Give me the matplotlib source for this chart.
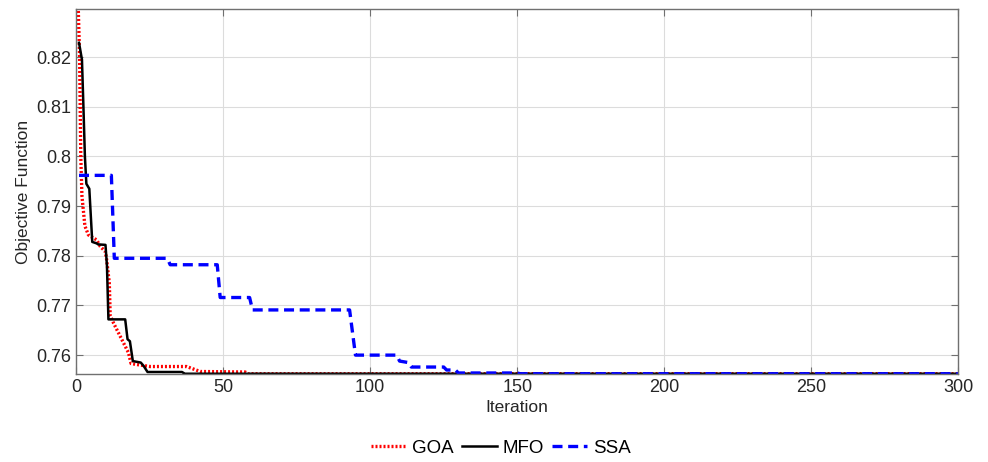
import matplotlib
matplotlib.use("Agg")
import matplotlib.pyplot as plt

plt.rcParams['font.family'] = ['Liberation Sans', 'DejaVu Sans']

# GOA (red dotted)
goa_it = [0.5, 1.2, 1.6, 2, 3, 4.2, 7, 8.2, 9.9, 10.4, 11.3, 11.6, 12.7, 14.4,
          16.1, 17.8, 18.7, 21.8, 25.2, 37.6, 39.9, 42.2, 57.5, 58.5, 300]
goa_val = [0.835, 0.82, 0.80, 0.792, 0.786, 0.7842, 0.7832, 0.7819, 0.7809, 0.7792,
           0.7745, 0.768, 0.7665, 0.7645, 0.7625, 0.7605, 0.7583, 0.758, 0.7577,
           0.7577, 0.7572, 0.7567, 0.7566, 0.75625, 0.75625]

# MFO (black solid)
mfo_it = [1, 2, 2.5, 3, 3.5, 4.5, 5.5, 7, 7.5, 10, 10.5, 11, 16.7, 17.5, 18.3,
          19.3, 22, 23, 24.3, 36, 37, 300]
mfo_val = [0.8229, 0.8195, 0.81, 0.80, 0.7945, 0.7935, 0.7828, 0.7825, 0.7823,
           0.7822, 0.778, 0.7672, 0.7672, 0.7632, 0.7628, 0.7588, 0.7585, 0.7578,
           0.7566, 0.7566, 0.75625, 0.75625]

# SSA (blue dashed)
ssa_it = [1, 12, 13, 31, 32, 48, 49, 59, 60, 93, 95, 109, 110, 113, 114, 125,
          126, 129, 130, 150, 151, 300]
ssa_val = [0.7962, 0.7962, 0.7795, 0.7795, 0.7782, 0.7782, 0.7716, 0.7716, 0.7691,
           0.7691, 0.7600, 0.7600, 0.7588, 0.7585, 0.7576, 0.7576, 0.7570, 0.7570,
           0.7564, 0.7564, 0.75625, 0.75625]

fig = plt.figure(figsize=(9.88, 4.62), dpi=100)
ax = fig.add_axes([0.077, 0.1905, 0.893, 0.79])

ax.plot(goa_it, goa_val, color='red', linestyle=(0, (0.6, 0.6)), linewidth=2.4, label='GOA')
ax.plot(mfo_it, mfo_val, color='black', linestyle='-', linewidth=1.8, label='MFO')
ax.plot(ssa_it, ssa_val, color='blue', linestyle=(0, (3, 1.7)), linewidth=2.4, label='SSA')

ax.set_xlim(0, 300)
ax.set_ylim(0.7562, 0.8297)
ax.set_xticks([0, 50, 100, 150, 200, 250, 300])
ax.set_yticks([0.76, 0.77, 0.78, 0.79, 0.8, 0.81, 0.82])
ax.set_yticklabels(['0.76', '0.77', '0.78', '0.79', '0.8', '0.81', '0.82'])
ax.grid(True, color='#dcdcdc', linewidth=0.8)
ax.set_axisbelow(True)
for s in ax.spines.values():
    s.set_color('#707070')
    s.set_linewidth(1.0)
ax.tick_params(direction='in', top=True, right=True, labelsize=13,
               colors='#707070', labelcolor='#262626', length=5)
ax.set_xlabel('Iteration', fontsize=12.5, color='#262626', labelpad=3)
ax.set_ylabel('Objective Function', fontsize=12.5, color='#262626')

fig.legend(loc='center', bbox_to_anchor=(0.507, 0.03), ncol=3, frameon=False,
           fontsize=13.5, handlelength=1.9, columnspacing=0.4, handletextpad=0.3)

fig.savefig('out.png', dpi=100)
